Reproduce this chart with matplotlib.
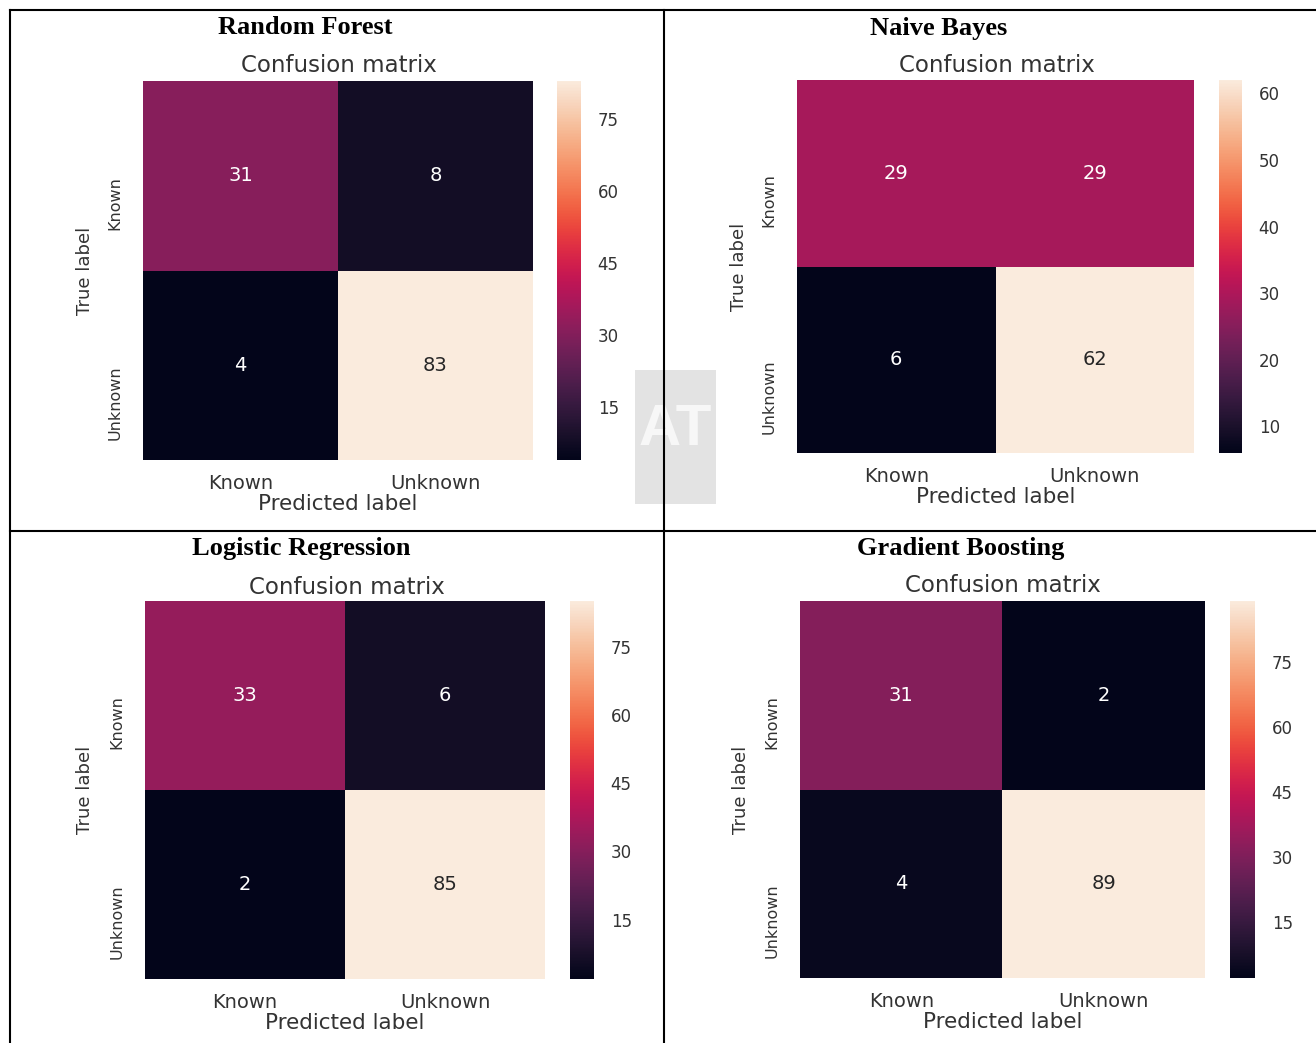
import matplotlib
matplotlib.use("Agg")
import matplotlib.pyplot as plt
import seaborn as sns
import numpy as np
from matplotlib.lines import Line2D
from matplotlib.patches import Rectangle
from matplotlib.ticker import MaxNLocator

# ---- data -------------------------------------------------------------
class_labels = ["Known", "Unknown"]
model_names = ["Random Forest", "Naive Bayes", "Logistic Regression", "Gradient Boosting"]
rf_matrix = [[31, 8], [4, 83]]
nb_matrix = [[29, 29], [6, 62]]
lr_matrix = [[33, 6], [2, 85]]
gb_matrix = [[31, 2], [4, 89]]
matrices = [rf_matrix, nb_matrix, lr_matrix, gb_matrix]

# ---- layout (pixel units on a 1316x1043 canvas) -------------------------
W, H = 1316, 1043
layout = [
    dict(title=(305, 28), hm=(143, 81, 533, 460), cb=(557, 81, 581, 460), sub=(339, 65), ylab=85),
    dict(title=(939, 28), hm=(797, 80, 1194, 453), cb=(1219, 80, 1242, 453), sub=(997, 65), ylab=739),
    dict(title=(301, 548), hm=(145, 601, 545, 979), cb=(570, 601, 594, 979), sub=(347, 587), ylab=85),
    dict(title=(961, 548), hm=(800, 601, 1205, 978), cb=(1230, 601, 1255, 978), sub=(1003, 586), ylab=741),
]

TEXT = "#333333"
plt.rcParams["font.family"] = ["DejaVu Sans"]


def fx(px):
    return px / W


def fy(py):
    return 1 - py / H


def rect(x0, y0, x1, y1):
    return [x0 / W, 1 - y1 / H, (x1 - x0) / W, (y1 - y0) / H]


fig = plt.figure(figsize=(W / 100, H / 100), dpi=100)
fig.patch.set_facecolor("white")

# faint page watermark fragment showing between the panels
wm = Rectangle((fx(635), fy(504)), (716 - 635) / W, (504 - 370) / H,
               transform=fig.transFigure, facecolor="#e3e3e3",
               edgecolor="none", zorder=-5)
fig.add_artist(wm)
wm_text = fig.text(fx(712), fy(430), "AT", ha="right", va="center", fontsize=42,
                   family="Liberation Sans", fontweight="bold", color="#f7f7f7", zorder=-4)
wm_text.set_clip_path(wm)

cmap = sns.color_palette("rocket", as_cmap=True)

for name, mat, lay in zip(model_names, matrices, layout):
    ax = fig.add_axes(rect(*lay["hm"]))
    cax = fig.add_axes(rect(*lay["cb"]))
    sns.heatmap(np.array(mat), annot=True, fmt="d", cmap=cmap, ax=ax, cbar_ax=cax,
                xticklabels=class_labels, yticklabels=class_labels,
                annot_kws={"size": 14})
    ax.tick_params(length=0, colors=TEXT)
    ax.tick_params(axis="x", pad=10, labelsize=14)
    ax.tick_params(axis="y", pad=15, labelsize=11.5)
    for t in ax.get_yticklabels():
        t.set_rotation(90)
        t.set_va("top")
        t.set_ha("right")
    for t in ax.get_xticklabels():
        t.set_rotation(0)

    cbar = ax.collections[0].colorbar
    cbar.outline.set_visible(False)
    cbar.locator = MaxNLocator(nbins=6, steps=[1, 1.5, 2, 2.5, 5, 10])
    cbar.update_ticks()
    cbar.ax.tick_params(length=0, pad=12, labelsize=12, labelcolor=TEXT)

    x0, y0, x1, y1 = lay["hm"]
    fig.text(fx(lay["title"][0]), fy(lay["title"][1]), name, ha="center", va="center",
             family="Liberation Serif", fontweight="bold", fontsize=19, color="black")
    fig.text(fx(lay["sub"][0]), fy(lay["sub"][1]), "Confusion matrix", ha="center", va="center",
             fontsize=16.5, color=TEXT)
    fig.text(fx((x0 + x1) / 2), fy(y1 + 44), "Predicted label", ha="center", va="center",
             fontsize=15.5, color=TEXT)
    fig.text(fx(lay["ylab"]), fy((y0 + y1) / 2), "True label", ha="center", va="center",
             rotation=90, fontsize=13, color=TEXT)

# table rules framing the four panels
for xs, ys in [((10, 10), (10, H)), ((10, W), (10, 10)), ((664, 664), (10, H)), ((10, W), (531, 531))]:
    fig.add_artist(Line2D([fx(v) for v in xs], [fy(v) for v in ys], color="black", lw=1.5))

fig.savefig("out.png", dpi=100, facecolor="white")
